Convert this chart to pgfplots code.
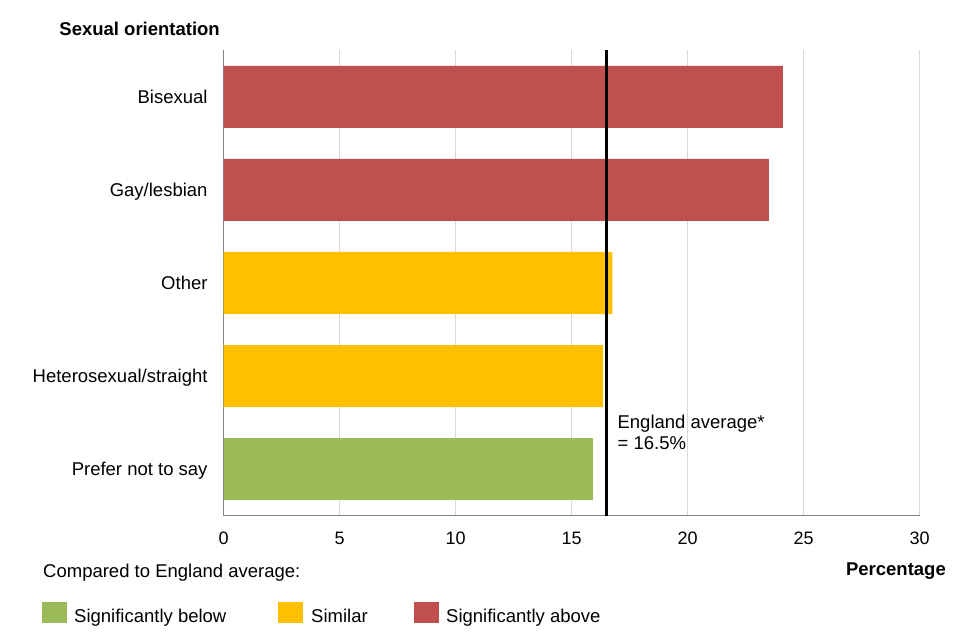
\documentclass[border=0pt]{standalone}
\usepackage{pgfplots}
\pgfplotsset{compat=1.18}
\usepackage{fontspec}
\setmainfont{Liberation Sans}
\definecolor{cred}{HTML}{C0504D}
\definecolor{cyel}{HTML}{FFC000}
\definecolor{cgrn}{HTML}{9BBB59}
\definecolor{cgrid}{HTML}{D9D9D9}
\definecolor{caxis}{HTML}{868686}
\begin{document}
\fontsize{18.5pt}{22pt}\selectfont
\begin{tikzpicture}
\useasboundingbox (0pt,0pt) rectangle (960pt,640pt);
\begin{axis}[
 at={(223.7pt,124.5pt)}, anchor=south west,
 scale only axis, width=696pt, height=465pt,
 xmin=0, xmax=30, ymin=-0.5, ymax=4.5,
 xtick={0,5,...,30}, ytick={0,...,4},
 yticklabels={Prefer not to say, Heterosexual/straight, Other, Gay/lesbian, Bisexual},
 major tick length=0pt,
 xmajorgrids, grid style={cgrid, line width=0.8pt},
 axis x line*=bottom, axis y line*=left,
 axis line style={caxis, line width=0.8pt, -},
 tick style={draw=none},
 /pgf/number format/assume math mode=true,
 xticklabel style={font=\fontsize{18pt}{21pt}\selectfont, inner sep=0pt, anchor=north, yshift=-16pt},
 yticklabel style={font=\fontsize{18.5pt}{22pt}\selectfont, inner sep=0pt, anchor=base east, xshift=-16pt, yshift=-6.3pt},
 clip=false,
]
\addplot[xbar, bar width=62pt, bar shift=0pt, fill=cred, draw=none] coordinates {(24.1,4) (23.5,3)};
\addplot[xbar, bar width=62pt, bar shift=0pt, fill=cyel, draw=none] coordinates {(16.75,2) (16.35,1)};
\addplot[xbar, bar width=62pt, bar shift=0pt, fill=cgrn, draw=none] coordinates {(15.9,0)};
\addplot[black, line width=2.8pt] coordinates {(16.5,-0.5) (16.5,4.5)};
\node[anchor=west, align=left, inner sep=0pt, font=\fontsize{18.5pt}{21pt}\selectfont] at (axis cs:16.97,0.39) {England average*\\= 16.5\%};
\end{axis}
\node[anchor=base east, inner sep=0pt, font=\bfseries] at (220pt,604.8pt) {Sexual orientation};
\node[anchor=base west, inner sep=0pt] at (43pt,62.5pt) {Compared to England average:};
\node[anchor=base east, inner sep=0pt, font=\bfseries] at (946pt,65pt) {Percentage};
\fill[cgrn] (42pt,17pt) rectangle (67pt,38pt);
\node[anchor=base west, inner sep=0pt] at (74pt,17.3pt) {Significantly below};
\fill[cyel] (277.5pt,17pt) rectangle (302.8pt,38pt);
\node[anchor=base west, inner sep=0pt] at (311pt,17.3pt) {Similar};
\fill[cred] (414pt,17pt) rectangle (439pt,38pt);
\node[anchor=base west, inner sep=0pt] at (446pt,17.3pt) {Significantly above};
\end{tikzpicture}
\end{document}
